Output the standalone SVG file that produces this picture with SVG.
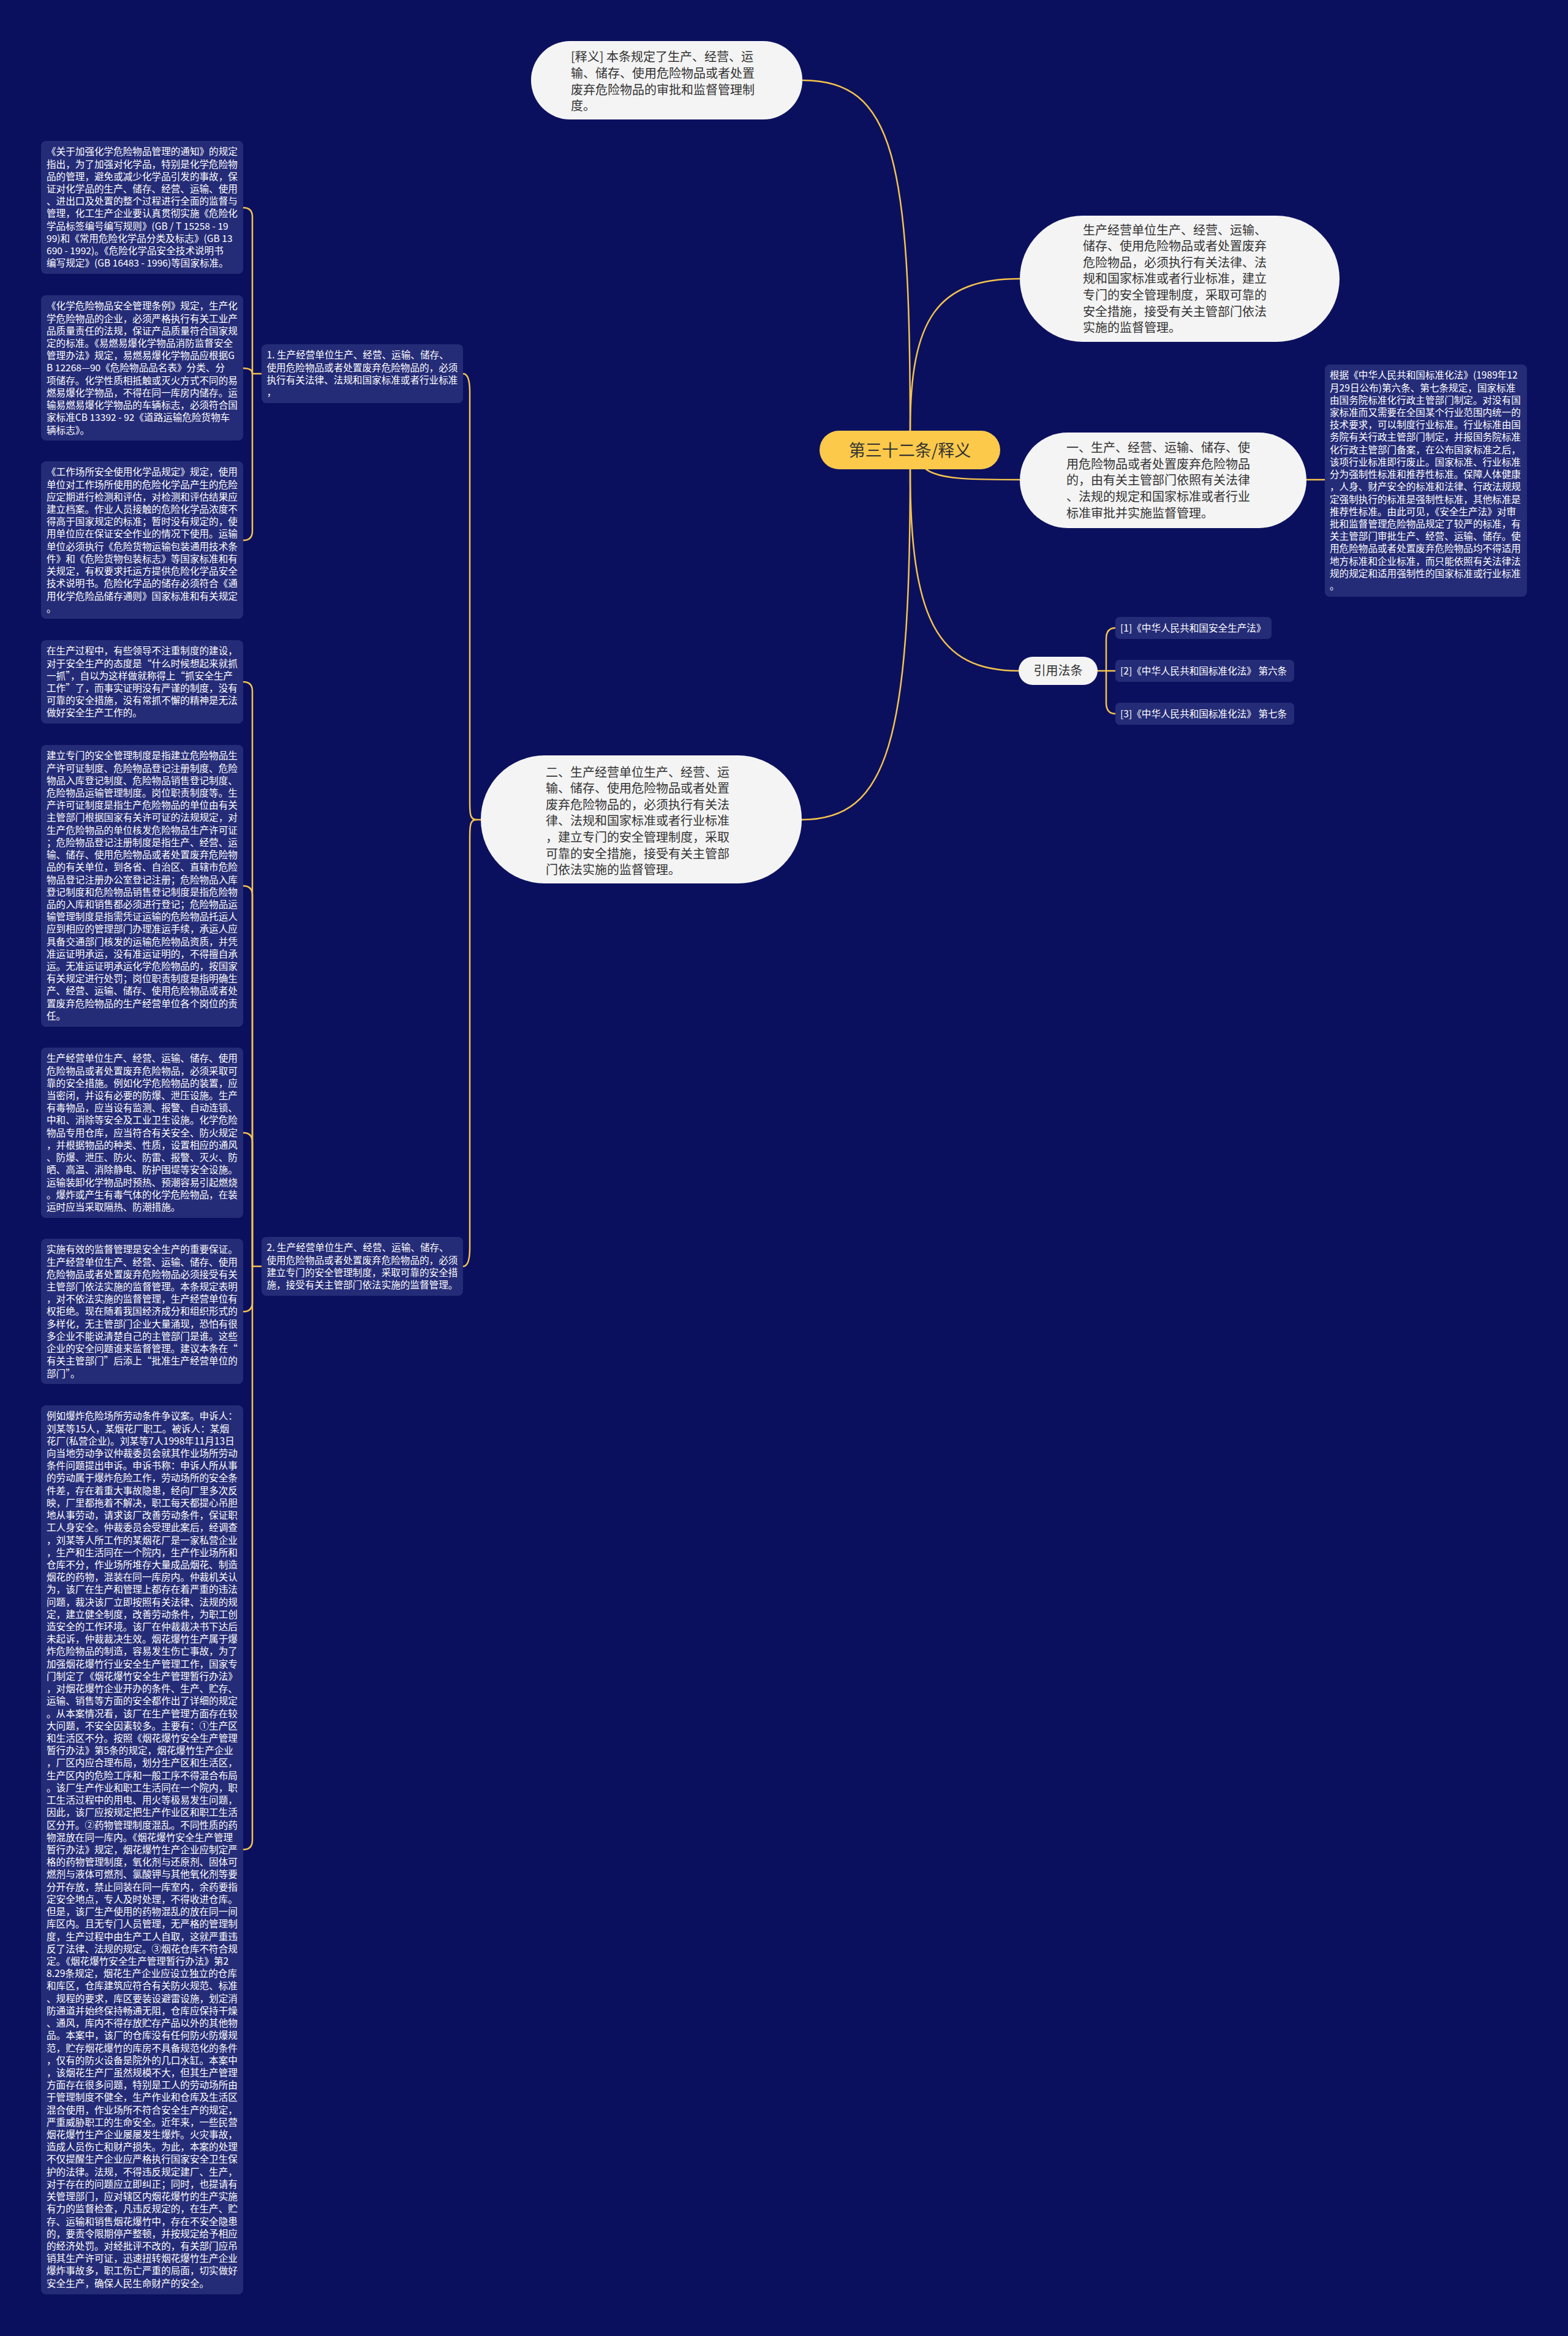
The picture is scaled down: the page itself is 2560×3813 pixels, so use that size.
<svg xmlns="http://www.w3.org/2000/svg" width="2560" height="3813" viewBox="0 0 2560 3813">
<style>
text{font-family:"Noto Sans CJK SC","Noto Sans",sans-serif;}
.leaf{fill:#252c77;}
.lt{fill:#ffffff;font-size:15.6px;}
.pill{fill:#f4f4f4;}
.pt{fill:#333333;font-size:20px;}
.con{fill:none;stroke:#f5c34e;stroke-width:2.5;stroke-linecap:round;}
</style>
<rect x="0" y="0" width="2560" height="3813" fill="#0b105e"/>
<g id="connectors">
<path class="con" d="M1486 703 C1486 260 1460 131 1310 131"/>
<path class="con" d="M1486 703 C1486 520 1530 455 1665 455"/>
<path class="con" d="M1512 766 C1535 783 1590 783 1665 783"/>
<path class="con" d="M1486 766 C1486 1010 1530 1095 1663 1095"/>
<path class="con" d="M1486 766 C1486 1210 1450 1338 1309 1338"/>
<path class="con" d="M2133 783 H2163"/>
<path class="con" d="M1792 1095 H1821"/>
<path class="con" d="M1806 1095 V1043 Q1806 1025 1821 1025"/>
<path class="con" d="M1806 1095 V1147 Q1806 1165 1821 1165"/>
<path class="con" d="M785 1338 H778 C768 1338 767 1330 767 1310 V640 Q767 610 756 610"/>
<path class="con" d="M778 1338 C768 1338 767 1346 767 1366 V2037 Q767 2067 756 2067"/>
<path class="con" d="M427 610 H412 V354 Q412 339 397 339"/>
<path class="con" d="M412 610 Q412 601 397 601"/>
<path class="con" d="M412 610 V867 Q412 882 397 882"/>
<path class="con" d="M427 2067 H412 V1128 Q412 1113 397 1113"/>
<path class="con" d="M412 2067 V1461 Q412 1446 397 1446"/>
<path class="con" d="M412 2067 V1864 Q412 1849 397 1849"/>
<path class="con" d="M412 2067 V2126 Q412 2141 397 2141"/>
<path class="con" d="M412 2067 V3004 Q412 3019 397 3019"/>
</g>
<g id="root">
<rect x="1338" y="703" width="295" height="63" rx="31.5" fill="#fcc94a"/>
<text x="1485.5" y="744.5" font-size="27" fill="#333333" text-anchor="middle">第三十二条/释义</text>
</g>
<g id="n-shiyi">
<rect class="pill" x="867" y="67" width="443" height="128" rx="64"/>
<text class="pt" y="100.4"><tspan x="932">[释义] 本条规定了生产、经营、运</tspan><tspan x="932" dy="26.6">输、储存、使用危险物品或者处置</tspan><tspan x="932" dy="26.6">废弃危险物品的审批和监督管理制</tspan><tspan x="932" dy="26.6">度。</tspan></text>
</g>
<g id="n-main">
<rect class="pill" x="1665" y="352" width="522" height="206" rx="103"/>
<text class="pt" y="382.6"><tspan x="1768">生产经营单位生产、经营、运输、</tspan><tspan x="1768" dy="26.6">储存、使用危险物品或者处置废弃</tspan><tspan x="1768" dy="26.6">危险物品，必须执行有关法律、法</tspan><tspan x="1768" dy="26.6">规和国家标准或者行业标准，建立</tspan><tspan x="1768" dy="26.6">专门的安全管理制度，采取可靠的</tspan><tspan x="1768" dy="26.6">安全措施，接受有关主管部门依法</tspan><tspan x="1768" dy="26.6">实施的监督管理。</tspan></text>
</g>
<g id="n-yi">
<rect class="pill" x="1665" y="706" width="468" height="156" rx="78"/>
<text class="pt" y="738.2"><tspan x="1741">一、生产、经营、运输、储存、使</tspan><tspan x="1741" dy="26.6">用危险物品或者处置废弃危险物品</tspan><tspan x="1741" dy="26.6">的，由有关主管部门依照有关法律</tspan><tspan x="1741" dy="26.6">、法规的规定和国家标准或者行业</tspan><tspan x="1741" dy="26.6">标准审批并实施监督管理。</tspan></text>
</g>
<g id="n-yi-note">
<rect class="leaf" x="2163" y="595" width="330" height="379" rx="8"/>
<text class="lt" y="618.3"><tspan x="2171">根据《中华人民共和国标准化法》(1989年12</tspan><tspan x="2171" dy="20.22">月29日公布)第六条、第七条规定，国家标准</tspan><tspan x="2171" dy="20.22">由国务院标准化行政主管部门制定。对没有国</tspan><tspan x="2171" dy="20.22">家标准而又需要在全国某个行业范围内统一的</tspan><tspan x="2171" dy="20.22">技术要求，可以制度行业标准。行业标准由国</tspan><tspan x="2171" dy="20.22">务院有关行政主管部门制定，并报国务院标准</tspan><tspan x="2171" dy="20.22">化行政主管部门备案，在公布国家标准之后，</tspan><tspan x="2171" dy="20.22">该项行业标准即行废止。国家标准、行业标准</tspan><tspan x="2171" dy="20.22">分为强制性标准和推荐性标准。保障人体健康</tspan><tspan x="2171" dy="20.22">，人身、财产安全的标准和法律、行政法规规</tspan><tspan x="2171" dy="20.22">定强制执行的标准是强制性标准，其他标准是</tspan><tspan x="2171" dy="20.22">推荐性标准。由此可见，《安全生产法》对审</tspan><tspan x="2171" dy="20.22">批和监督管理危险物品规定了较严的标准，有</tspan><tspan x="2171" dy="20.22">关主管部门审批生产、经营、运输、储存。使</tspan><tspan x="2171" dy="20.22">用危险物品或者处置废弃危险物品均不得适用</tspan><tspan x="2171" dy="20.22">地方标准和企业标准，而只能依照有关法律法</tspan><tspan x="2171" dy="20.22">规的规定和适用强制性的国家标准或行业标准</tspan><tspan x="2171" dy="20.22">。</tspan></text>
</g>
<g id="n-yinyong">
<rect class="pill" x="1663" y="1072" width="129" height="46" rx="23"/>
<text class="pt" x="1727.5" y="1102.4" text-anchor="middle">引用法条</text>
</g>
<g id="n-ref1">
<rect class="leaf" x="1821" y="1007" width="255" height="36" rx="7"/>
<text class="lt" x="1829" y="1030.8">[1]《中华人民共和国安全生产法》</text>
</g>
<g id="n-ref2">
<rect class="leaf" x="1821" y="1077" width="292" height="36" rx="7"/>
<text class="lt" x="1829" y="1100.8">[2]《中华人民共和国标准化法》 第六条</text>
</g>
<g id="n-ref3">
<rect class="leaf" x="1821" y="1147" width="292" height="36" rx="7"/>
<text class="lt" x="1829" y="1170.8">[3]《中华人民共和国标准化法》 第七条</text>
</g>
<g id="n-er">
<rect class="pill" x="785" y="1233" width="524" height="209" rx="104"/>
<text class="pt" y="1267.6"><tspan x="891">二、生产经营单位生产、经营、运</tspan><tspan x="891" dy="26.6">输、储存、使用危险物品或者处置</tspan><tspan x="891" dy="26.6">废弃危险物品的，必须执行有关法</tspan><tspan x="891" dy="26.6">律、法规和国家标准或者行业标准</tspan><tspan x="891" dy="26.6">，建立专门的安全管理制度，采取</tspan><tspan x="891" dy="26.6">可靠的安全措施，接受有关主管部</tspan><tspan x="891" dy="26.6">门依法实施的监督管理。</tspan></text>
</g>
<g id="n-1">
<rect class="leaf" x="427" y="562" width="329" height="96" rx="8"/>
<text class="lt" y="585.3"><tspan x="435.5">1. 生产经营单位生产、经营、运输、储存、</tspan><tspan x="435.5" dy="20.22">使用危险物品或者处置废弃危险物品的，必须</tspan><tspan x="435.5" dy="20.22">执行有关法律、法规和国家标准或者行业标准</tspan><tspan x="435.5" dy="20.22">，</tspan></text>
</g>
<g id="n-2">
<rect class="leaf" x="427" y="2019" width="329" height="96" rx="8"/>
<text class="lt" y="2042.3"><tspan x="435.5">2. 生产经营单位生产、经营、运输、储存、</tspan><tspan x="435.5" dy="20.22">使用危险物品或者处置废弃危险物品的，必须</tspan><tspan x="435.5" dy="20.22">建立专门的安全管理制度，采取可靠的安全措</tspan><tspan x="435.5" dy="20.22">施，接受有关主管部门依法实施的监督管理。</tspan></text>
</g>
<g id="n-a">
<rect class="leaf" x="67" y="230" width="330" height="217" rx="8"/>
<text class="lt" y="253.3"><tspan x="76">《关于加强化学危险物品管理的通知》的规定</tspan><tspan x="76" dy="20.22">指出，为了加强对化学品，特别是化学危险物</tspan><tspan x="76" dy="20.22">品的管理，避免或减少化学品引发的事故，保</tspan><tspan x="76" dy="20.22">证对化学品的生产、储存、经营、运输、使用</tspan><tspan x="76" dy="20.22">、进出口及处置的整个过程进行全面的监督与</tspan><tspan x="76" dy="20.22">管理，化工生产企业要认真贯彻实施《危险化</tspan><tspan x="76" dy="20.22">学品标签编号编写规则》(GB / T 15258 - 19</tspan><tspan x="76" dy="20.22">99)和《常用危险化学品分类及标志》(GB 13</tspan><tspan x="76" dy="20.22">690 - 1992)。《危险化学品安全技术说明书</tspan><tspan x="76" dy="20.22">编写规定》(GB 16483 - 1996)等国家标准。</tspan></text>
</g>
<g id="n-b">
<rect class="leaf" x="67" y="482" width="330" height="237" rx="8"/>
<text class="lt" y="505.3"><tspan x="76">《化学危险物品安全管理条例》规定，生产化</tspan><tspan x="76" dy="20.22">学危险物品的企业，必须严格执行有关工业产</tspan><tspan x="76" dy="20.22">品质量责任的法规，保证产品质量符合国家规</tspan><tspan x="76" dy="20.22">定的标准。《易燃易爆化学物品消防监督安全</tspan><tspan x="76" dy="20.22">管理办法》规定，易燃易爆化学物品应根据G</tspan><tspan x="76" dy="20.22">B 12268—90《危险物品品名表》分类、分</tspan><tspan x="76" dy="20.22">项储存。化学性质相抵触或灭火方式不同的易</tspan><tspan x="76" dy="20.22">燃易爆化学物品，不得在同一库房内储存。运</tspan><tspan x="76" dy="20.22">输易燃易爆化学物品的车辆标志，必须符合国</tspan><tspan x="76" dy="20.22">家标准CB 13392 - 92《道路运输危险货物车</tspan><tspan x="76" dy="20.22">辆标志》。</tspan></text>
</g>
<g id="n-c">
<rect class="leaf" x="67" y="753" width="330" height="257" rx="8"/>
<text class="lt" y="776.3"><tspan x="76">《工作场所安全使用化学品规定》规定，使用</tspan><tspan x="76" dy="20.22">单位对工作场所使用的危险化学品产生的危险</tspan><tspan x="76" dy="20.22">应定期进行检测和评估，对检测和评估结果应</tspan><tspan x="76" dy="20.22">建立档案。作业人员接触的危险化学品浓度不</tspan><tspan x="76" dy="20.22">得高于国家规定的标准；暂时没有规定的，使</tspan><tspan x="76" dy="20.22">用单位应在保证安全作业的情况下使用。运输</tspan><tspan x="76" dy="20.22">单位必须执行《危险货物运输包装通用技术条</tspan><tspan x="76" dy="20.22">件》和《危险货物包装标志》等国家标准和有</tspan><tspan x="76" dy="20.22">关规定，有权要求托运方提供危险化学品安全</tspan><tspan x="76" dy="20.22">技术说明书。危险化学品的储存必须符合《通</tspan><tspan x="76" dy="20.22">用化学危险品储存通则》国家标准和有关规定</tspan><tspan x="76" dy="20.22">。</tspan></text>
</g>
<g id="n-d">
<rect class="leaf" x="67" y="1045" width="330" height="136" rx="8"/>
<text class="lt" y="1068.3"><tspan x="76">在生产过程中，有些领导不注重制度的建设，</tspan><tspan x="76" dy="20.22">对于安全生产的态度是“什么时候想起来就抓</tspan><tspan x="76" dy="20.22">一抓”，自以为这样做就称得上“抓安全生产</tspan><tspan x="76" dy="20.22">工作”了，而事实证明没有严谨的制度，没有</tspan><tspan x="76" dy="20.22">可靠的安全措施，没有常抓不懈的精神是无法</tspan><tspan x="76" dy="20.22">做好安全生产工作的。</tspan></text>
</g>
<g id="n-e">
<rect class="leaf" x="67" y="1216" width="330" height="460" rx="8"/>
<text class="lt" y="1239.3"><tspan x="76">建立专门的安全管理制度是指建立危险物品生</tspan><tspan x="76" dy="20.22">产许可证制度、危险物品登记注册制度、危险</tspan><tspan x="76" dy="20.22">物品入库登记制度、危险物品销售登记制度、</tspan><tspan x="76" dy="20.22">危险物品运输管理制度。岗位职责制度等。生</tspan><tspan x="76" dy="20.22">产许可证制度是指生产危险物品的单位由有关</tspan><tspan x="76" dy="20.22">主管部门根据国家有关许可证的法规规定，对</tspan><tspan x="76" dy="20.22">生产危险物品的单位核发危险物品生产许可证</tspan><tspan x="76" dy="20.22">；危险物品登记注册制度是指生产、经营、运</tspan><tspan x="76" dy="20.22">输、储存、使用危险物品或者处置废弃危险物</tspan><tspan x="76" dy="20.22">品的有关单位，到各省、自治区、直辖市危险</tspan><tspan x="76" dy="20.22">物品登记注册办公室登记注册；危险物品入库</tspan><tspan x="76" dy="20.22">登记制度和危险物品销售登记制度是指危险物</tspan><tspan x="76" dy="20.22">品的入库和销售都必须进行登记；危险物品运</tspan><tspan x="76" dy="20.22">输管理制度是指需凭证运输的危险物品托运人</tspan><tspan x="76" dy="20.22">应到相应的管理部门办理准运手续，承运人应</tspan><tspan x="76" dy="20.22">具备交通部门核发的运输危险物品资质，并凭</tspan><tspan x="76" dy="20.22">准运证明承运，没有准运证明的，不得擅自承</tspan><tspan x="76" dy="20.22">运。无准运证明承运化学危险物品的，按国家</tspan><tspan x="76" dy="20.22">有关规定进行处罚；岗位职责制度是指明确生</tspan><tspan x="76" dy="20.22">产、经营、运输、储存、使用危险物品或者处</tspan><tspan x="76" dy="20.22">置废弃危险物品的生产经营单位各个岗位的责</tspan><tspan x="76" dy="20.22">任。</tspan></text>
</g>
<g id="n-f">
<rect class="leaf" x="67" y="1710" width="330" height="278" rx="8"/>
<text class="lt" y="1733.3"><tspan x="76">生产经营单位生产、经营、运输、储存、使用</tspan><tspan x="76" dy="20.22">危险物品或者处置废弃危险物品，必须采取可</tspan><tspan x="76" dy="20.22">靠的安全措施。例如化学危险物品的装置，应</tspan><tspan x="76" dy="20.22">当密闭，并设有必要的防爆、泄压设施。生产</tspan><tspan x="76" dy="20.22">有毒物品，应当设有监测、报警、自动连锁、</tspan><tspan x="76" dy="20.22">中和、消除等安全及工业卫生设施。化学危险</tspan><tspan x="76" dy="20.22">物品专用仓库，应当符合有关安全、防火规定</tspan><tspan x="76" dy="20.22">，并根据物品的种类、性质，设置相应的通风</tspan><tspan x="76" dy="20.22">、防爆、泄压、防火、防雷、报警、灭火、防</tspan><tspan x="76" dy="20.22">晒、高温、消除静电、防护围堤等安全设施。</tspan><tspan x="76" dy="20.22">运输装卸化学物品时预热、预潮容易引起燃烧</tspan><tspan x="76" dy="20.22">。爆炸或产生有毒气体的化学危险物品，在装</tspan><tspan x="76" dy="20.22">运时应当采取隔热、防潮措施。</tspan></text>
</g>
<g id="n-g">
<rect class="leaf" x="67" y="2022" width="330" height="237" rx="8"/>
<text class="lt" y="2045.3"><tspan x="76">实施有效的监督管理是安全生产的重要保证。</tspan><tspan x="76" dy="20.22">生产经营单位生产、经营、运输、储存、使用</tspan><tspan x="76" dy="20.22">危险物品或者处置废弃危险物品必须接受有关</tspan><tspan x="76" dy="20.22">主管部门依法实施的监督管理。本条规定表明</tspan><tspan x="76" dy="20.22">，对不依法实施的监督管理，生产经营单位有</tspan><tspan x="76" dy="20.22">权拒绝。现在随着我国经济成分和组织形式的</tspan><tspan x="76" dy="20.22">多样化，无主管部门企业大量涌现，恐怕有很</tspan><tspan x="76" dy="20.22">多企业不能说清楚自己的主管部门是谁。这些</tspan><tspan x="76" dy="20.22">企业的安全问题谁来监督管理。建议本条在“</tspan><tspan x="76" dy="20.22">有关主管部门”后添上“批准生产经营单位的</tspan><tspan x="76" dy="20.22">部门”。</tspan></text>
</g>
<g id="n-h">
<rect class="leaf" x="67" y="2294" width="330" height="1451" rx="8"/>
<text class="lt" y="2317.3"><tspan x="76">例如爆炸危险场所劳动条件争议案。申诉人：</tspan><tspan x="76" dy="20.22">刘某等15人，某烟花厂职工。被诉人：某烟</tspan><tspan x="76" dy="20.22">花厂(私营企业)。刘某等7人1998年11月13日</tspan><tspan x="76" dy="20.22">向当地劳动争议仲裁委员会就其作业场所劳动</tspan><tspan x="76" dy="20.22">条件问题提出申诉。申诉书称：申诉人所从事</tspan><tspan x="76" dy="20.22">的劳动属于爆炸危险工作，劳动场所的安全条</tspan><tspan x="76" dy="20.22">件差，存在着重大事故隐患，经向厂里多次反</tspan><tspan x="76" dy="20.22">映，厂里都拖着不解决，职工每天都提心吊胆</tspan><tspan x="76" dy="20.22">地从事劳动，请求该厂改善劳动条件，保证职</tspan><tspan x="76" dy="20.22">工人身安全。仲裁委员会受理此案后，经调查</tspan><tspan x="76" dy="20.22">，刘某等人所工作的某烟花厂是一家私营企业</tspan><tspan x="76" dy="20.22">，生产和生活同在一个院内，生产作业场所和</tspan><tspan x="76" dy="20.22">仓库不分，作业场所堆存大量成品烟花、制造</tspan><tspan x="76" dy="20.22">烟花的药物，混装在同一库房内。仲裁机关认</tspan><tspan x="76" dy="20.22">为，该厂在生产和管理上都存在着严重的违法</tspan><tspan x="76" dy="20.22">问题，裁决该厂立即按照有关法律、法规的规</tspan><tspan x="76" dy="20.22">定，建立健全制度，改善劳动条件，为职工创</tspan><tspan x="76" dy="20.22">造安全的工作环境。该厂在仲裁裁决书下达后</tspan><tspan x="76" dy="20.22">未起诉，仲裁裁决生效。烟花爆竹生产属于爆</tspan><tspan x="76" dy="20.22">炸危险物品的制造，容易发生伤亡事故，为了</tspan><tspan x="76" dy="20.22">加强烟花爆竹行业安全生产管理工作，国家专</tspan><tspan x="76" dy="20.22">门制定了《烟花爆竹安全生产管理暂行办法》</tspan><tspan x="76" dy="20.22">，对烟花爆竹企业开办的条件、生产、贮存、</tspan><tspan x="76" dy="20.22">运输、销售等方面的安全都作出了详细的规定</tspan><tspan x="76" dy="20.22">。从本案情况看，该厂在生产管理方面存在较</tspan><tspan x="76" dy="20.22">大问题，不安全因素较多。主要有：①生产区</tspan><tspan x="76" dy="20.22">和生活区不分。按照《烟花爆竹安全生产管理</tspan><tspan x="76" dy="20.22">暂行办法》第5条的规定，烟花爆竹生产企业</tspan><tspan x="76" dy="20.22">，厂区内应合理布局，划分生产区和生活区，</tspan><tspan x="76" dy="20.22">生产区内的危险工序和一般工序不得混合布局</tspan><tspan x="76" dy="20.22">。该厂生产作业和职工生活同在一个院内，职</tspan><tspan x="76" dy="20.22">工生活过程中的用电、用火等极易发生问题，</tspan><tspan x="76" dy="20.22">因此，该厂应按规定把生产作业区和职工生活</tspan><tspan x="76" dy="20.22">区分开。②药物管理制度混乱。不同性质的药</tspan><tspan x="76" dy="20.22">物混放在同一库内。《烟花爆竹安全生产管理</tspan><tspan x="76" dy="20.22">暂行办法》规定，烟花爆竹生产企业应制定严</tspan><tspan x="76" dy="20.22">格的药物管理制度，氧化剂与还原剂、固体可</tspan><tspan x="76" dy="20.22">燃剂与液体可燃剂、氯酸钾与其他氧化剂等要</tspan><tspan x="76" dy="20.22">分开存放，禁止同装在同一库室内，余药要指</tspan><tspan x="76" dy="20.22">定安全地点，专人及时处理，不得收进仓库。</tspan><tspan x="76" dy="20.22">但是，该厂生产使用的药物混乱的放在同一间</tspan><tspan x="76" dy="20.22">库区内。且无专门人员管理，无严格的管理制</tspan><tspan x="76" dy="20.22">度，生产过程中由生产工人自取，这就严重违</tspan><tspan x="76" dy="20.22">反了法律、法规的规定。③烟花仓库不符合规</tspan><tspan x="76" dy="20.22">定。《烟花爆竹安全生产管理暂行办法》第2</tspan><tspan x="76" dy="20.22">8.29条规定，烟花生产企业应设立独立的仓库</tspan><tspan x="76" dy="20.22">和库区，仓库建筑应符合有关防火规范、标准</tspan><tspan x="76" dy="20.22">、规程的要求，库区要装设避雷设施，划定消</tspan><tspan x="76" dy="20.22">防通道并始终保持畅通无阻，仓库应保持干燥</tspan><tspan x="76" dy="20.22">、通风，库内不得存放贮存产品以外的其他物</tspan><tspan x="76" dy="20.22">品。本案中，该厂的仓库没有任何防火防爆规</tspan><tspan x="76" dy="20.22">范，贮存烟花爆竹的库房不具备规范化的条件</tspan><tspan x="76" dy="20.22">，仅有的防火设备是院外的几口水缸。本案中</tspan><tspan x="76" dy="20.22">，该烟花生产厂虽然规模不大，但其生产管理</tspan><tspan x="76" dy="20.22">方面存在很多问题，特别是工人的劳动场所由</tspan><tspan x="76" dy="20.22">于管理制度不健全，生产作业和仓库及生活区</tspan><tspan x="76" dy="20.22">混合使用，作业场所不符合安全生产的规定，</tspan><tspan x="76" dy="20.22">严重威胁职工的生命安全。近年来，一些民营</tspan><tspan x="76" dy="20.22">烟花爆竹生产企业屡屡发生爆炸。火灾事故，</tspan><tspan x="76" dy="20.22">造成人员伤亡和财产损失。为此，本案的处理</tspan><tspan x="76" dy="20.22">不仅提醒生产企业应严格执行国家安全卫生保</tspan><tspan x="76" dy="20.22">护的法律。法规，不得违反规定建厂、生产，</tspan><tspan x="76" dy="20.22">对于存在的问题应立即纠正；同时，也提请有</tspan><tspan x="76" dy="20.22">关管理部门，应对辖区内烟花爆竹的生产实施</tspan><tspan x="76" dy="20.22">有力的监督检查，凡违反规定的，在生产、贮</tspan><tspan x="76" dy="20.22">存、运输和销售烟花爆竹中，存在不安全隐患</tspan><tspan x="76" dy="20.22">的，要责令限期停产整顿，并按规定给予相应</tspan><tspan x="76" dy="20.22">的经济处罚。对经批评不改的，有关部门应吊</tspan><tspan x="76" dy="20.22">销其生产许可证，迅速扭转烟花爆竹生产企业</tspan><tspan x="76" dy="20.22">爆炸事故多，职工伤亡严重的局面，切实做好</tspan><tspan x="76" dy="20.22">安全生产，确保人民生命财产的安全。</tspan></text>
</g>
</svg>
